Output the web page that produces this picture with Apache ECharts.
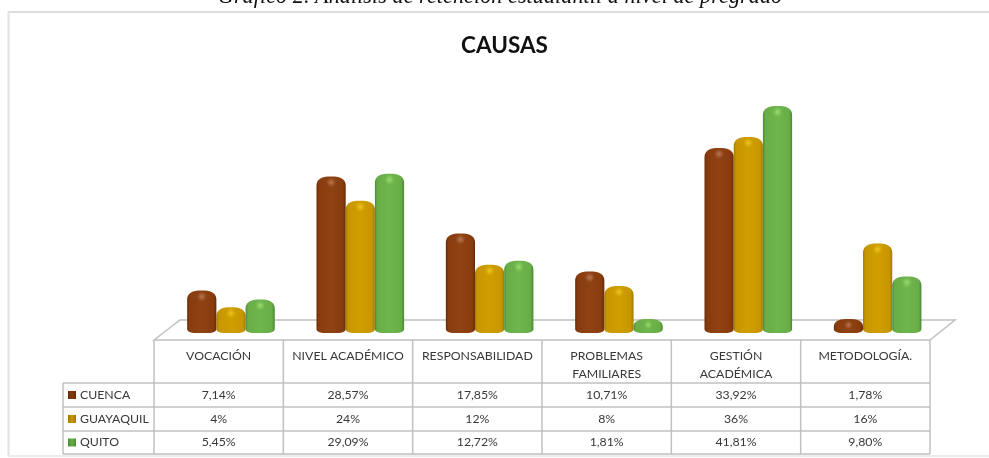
<!DOCTYPE html>
<html>
<head>
<meta charset="utf-8">
<style>html,body{margin:0;padding:0;background:#fff}#c{width:989px;height:458px;filter:blur(0.45px)}</style>
<script src="https://cdn.jsdelivr.net/npm/echarts@6/dist/echarts.min.js"></script>
</head>
<body>
<div id="c"></div>
<script>
const categories = ['VOCACIÓN', 'NIVEL ACADÉMICO', 'RESPONSABILIDAD', 'PROBLEMAS\nFAMILIARES', 'GESTIÓN\nACADÉMICA', 'METODOLOGÍA.'];
const cuenca = [7.14, 28.57, 17.85, 10.71, 33.92, 1.78];
const guayaquil = [4, 24, 12, 8, 36, 16];
const quito = [5.45, 29.09, 12.72, 1.81, 41.81, 9.80];
const cuencaLabels = ['7,14%', '28,57%', '17,85%', '10,71%', '33,92%', '1,78%'];
const guayaquilLabels = ['4%', '24%', '12%', '8%', '36%', '16%'];
const quitoLabels = ['5,45%', '29,09%', '12,72%', '1,81%', '41,81%', '9,80%'];
const seriesNames = ['CUENCA', 'GUAYAQUIL', 'QUITO'];
const caption = 'Gráfico 2. Análisis de retención estudiantil a nivel de pregrado';

const palettes = [
  {edge: '#682b08', mid: '#883b0d', light: '#8f4214', hi: '#c98a68'},
  {edge: '#a27a00', mid: '#c79600', light: '#cf9f00', hi: '#fbd02a'},
  {edge: '#4a8a34', mid: '#68ad47', light: '#6fb64d', hi: '#a8e878'}
];
const UI = 'Lato, "Open Sans", sans-serif';
const TL = 154, TW = 776, COL = TW / 6, LEG = 63;
const ROWS = [383, 407, 431, 454], HEAD = 340;
const FOOT = 4.5, DEPTH = 12.3, BW = 29.2;

function cylinder(series) {
  return function (params, api) {
    const i = api.value(0), v = api.value(1);
    const p = api.coord([i, v]), b = api.coord([i, 0]);
    const pal = palettes[series];
    const l = p[0] + DEPTH + (series - 1) * BW - BW / 2, r = l + BW;
    const t = p[1], y2 = b[1] + FOOT, h = y2 - t;
    const ry = Math.min(9, h * 0.55), rb = Math.min(4, h * 0.45);
    const cx = 11.5, bx = 8;
    const d = ['M', l, y2 - rb, 'L', l, t + ry,
      'C', l, t + ry * 0.4, l + cx * 0.4, t, l + cx, t,
      'L', r - cx, t,
      'C', r - cx * 0.4, t, r, t + ry * 0.4, r, t + ry,
      'L', r, y2 - rb,
      'C', r, y2 - rb * 0.35, r - bx * 0.5, y2, r - bx, y2,
      'L', l + bx, y2,
      'C', l + bx * 0.5, y2, l, y2 - rb * 0.35, l, y2 - rb, 'Z'].join(' ');
    const fill = new echarts.graphic.LinearGradient(0, 0, 1, 0, [
      {offset: 0, color: pal.edge}, {offset: 0.08, color: pal.mid},
      {offset: 0.5, color: pal.light}, {offset: 0.9, color: pal.mid},
      {offset: 1, color: pal.edge}]);
    return {
      type: 'group',
      children: [
        {type: 'path', shape: {pathData: d, x: l, y: t, width: BW, height: h, layout: 'cover'}, style: {fill: fill}},
        {type: 'ellipse', shape: {cx: l + BW / 2, cy: t + Math.min(6, h * 0.42), rx: 11, ry: Math.min(5, h * 0.3)},
          style: {fill: new echarts.graphic.RadialGradient(0.5, 0.5, 0.5, [
            {offset: 0, color: pal.hi + 'bb'}, {offset: 0.5, color: pal.hi + '55'}, {offset: 1, color: pal.hi + '00'}])}}
      ]
    };
  };
}

function line(x1, y1, x2, y2, color, w) {
  return {type: 'line', shape: {x1, y1, x2, y2}, style: {stroke: color || '#c0c0c0', lineWidth: w || 1.5}, silent: true};
}
function txt(x, y, s, opt) {
  return {type: 'text', x, y, style: Object.assign({text: s, fill: '#383838', font: '12.3px ' + UI, textAlign: 'center', textVerticalAlign: 'middle'}, opt || {})};
}

const g = [];
g.push(txt(500, -3, caption, {font: 'italic 22.3px "Liberation Serif", serif', fill: '#111'}));
g.push(line(8, 12, 989, 12, '#dcdcdc', 2), line(8.5, 12, 8.5, 456, '#e2e2e2', 2), line(8, 456, 989, 456, '#ececec', 2));
g.push({type: 'polygon', shape: {points: [[TL, HEAD], [180, 320], [955, 320], [TL + TW, HEAD]]}, style: {fill: '#fff', stroke: '#c0c0c0', lineWidth: 1.5}});
ROWS.forEach(y => g.push(line(LEG, y, TL + TW, y)));
for (let i = 0; i <= 6; i++) g.push(line(TL + i * COL, HEAD, TL + i * COL, ROWS[3]));
g.push(line(LEG, ROWS[0], LEG, ROWS[3]));
[cuencaLabels, guayaquilLabels, quitoLabels].forEach((labels, r) => {
  const cy = (ROWS[r] + ROWS[r + 1]) / 2;
  labels.forEach((s, i) => g.push(txt(TL + (i + 0.5) * COL, cy, s)));
  g.push({type: 'rect', shape: {x: 68, y: cy - 4, width: 8, height: 8},
    style: {fill: new echarts.graphic.LinearGradient(0, 0, 1, 0, [
      {offset: 0, color: palettes[r].edge}, {offset: 0.5, color: palettes[r].mid}, {offset: 1, color: palettes[r].edge}])}});
  g.push(txt(80, cy, seriesNames[r], {textAlign: 'left'}));
});

const chart = echarts.init(document.getElementById('c'));
chart.setOption({
  animation: false,
  backgroundColor: '#fff',
  title: {text: 'CAUSAS', left: 499.5, top: 29, textAlign: 'center',
    textStyle: {fontFamily: UI, fontWeight: 'bold', fontSize: 22.5, color: '#111'}},
  grid: {left: TL, width: TW, top: 62.35, bottom: 129.4},
  xAxis: {type: 'category', data: categories, axisLine: {show: false}, axisTick: {show: false},
    axisLabel: {interval: 0, margin: 18, fontFamily: UI, fontSize: 12.3, lineHeight: 18.5, color: '#383838', verticalAlign: 'top'}},
  yAxis: {type: 'value', min: 0, max: 50, show: false},
  graphic: {elements: g.map(e => Object.assign({z: 0}, e))},
  series: [cuenca, guayaquil, quito].map((vals, s) => ({
    name: seriesNames[s], type: 'custom', z: 5 + s, clip: false,
    renderItem: cylinder(s),
    data: vals.map((v, i) => [i, v]),
    encode: {x: 0, y: 1}
  }))
});
</script>
</body>
</html>
